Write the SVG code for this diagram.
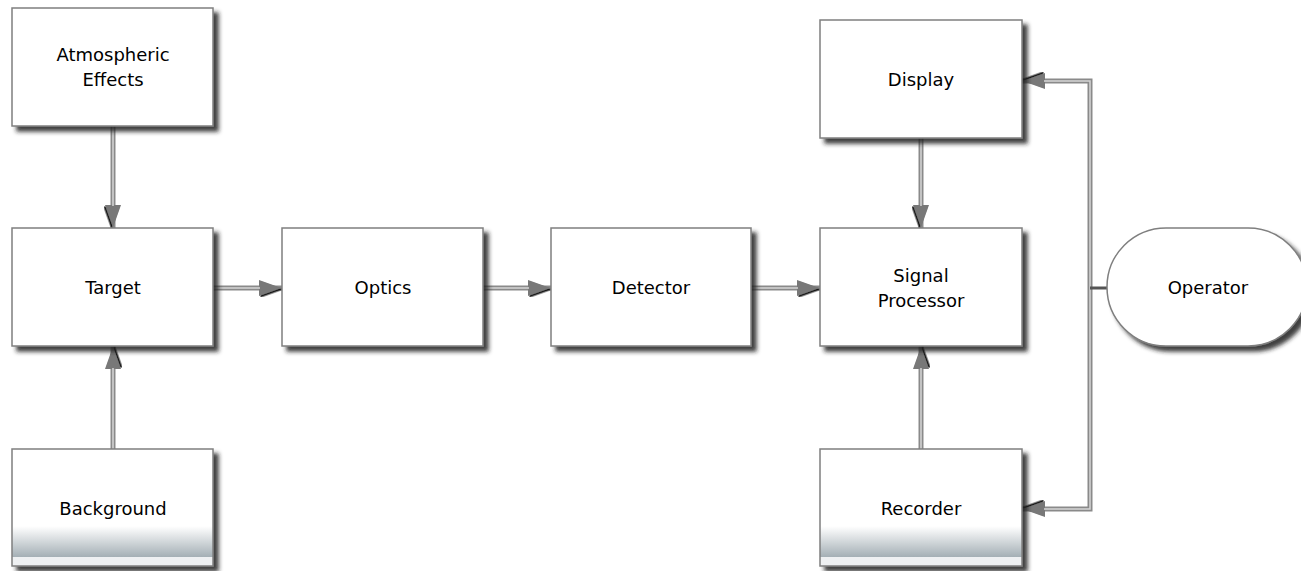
<svg xmlns="http://www.w3.org/2000/svg" width="1301" height="571" viewBox="0 0 1301 571">
<style>
.box{fill:#fff;stroke:#7f7f7f;stroke-width:1.5;filter:url(#sh)}
.gbox{fill:url(#grad);stroke:#7f7f7f;stroke-width:1.5;filter:url(#sh)}
.lbl{font-family:"DejaVu Sans","Verdana",sans-serif;font-size:18px;fill:#000;text-anchor:middle}
.wire{fill:none;stroke:#8a8a8a;stroke-width:5}
.core{fill:none;stroke:#d6d6d6;stroke-width:1.5}
.arr{marker-end:url(#ah)}
</style>
<defs>
<filter id="sh" x="-10%" y="-10%" width="125%" height="130%">
<feDropShadow dx="5" dy="5" stdDeviation="2" flood-color="#222" flood-opacity="0.85"/>
</filter>
<filter id="ash" x="-50%" y="-50%" width="200%" height="200%">
<feDropShadow dx="1.5" dy="1.5" stdDeviation="0.6" flood-color="#111" flood-opacity="0.95"/>
</filter>
<linearGradient id="grad" x1="0" y1="0" x2="0" y2="1">
<stop offset="0" stop-color="#fff"/>
<stop offset="0.66" stop-color="#fff"/>
<stop offset="0.92" stop-color="#a5b0b6"/>
<stop offset="0.92" stop-color="#eef0f2"/>
<stop offset="1" stop-color="#eef0f2"/>
</linearGradient>
<marker id="ah" viewBox="0 0 23 18" refX="23" refY="9" markerWidth="23" markerHeight="18" markerUnits="userSpaceOnUse" orient="auto">
<path d="M0,1 L22.5,9 L0,17 z" fill="#787878" filter="url(#ash)"/>
</marker>
</defs>
<rect width="1301" height="571" fill="#fff"/>
<g id="connectors">
<path class="wire arr" d="M113,126 V228"/>
<path class="core" d="M113,126 V206"/>
<path class="wire arr" d="M113,449 V346"/>
<path class="core" d="M113,449 V368"/>
<path class="wire arr" d="M213,288 H282"/>
<path class="core" d="M213,288 H260"/>
<path class="wire arr" d="M483,288 H551"/>
<path class="core" d="M483,288 H529"/>
<path class="wire arr" d="M751,288 H820"/>
<path class="core" d="M751,288 H798"/>
<path class="wire arr" d="M921,138 V228"/>
<path class="core" d="M921,138 V206"/>
<path class="wire arr" d="M921,449 V346"/>
<path class="core" d="M921,449 V368"/>
<path class="wire arr" d="M1090,288 V81 H1022"/>
<path class="core" d="M1090,288 V81 H1044"/>
<path class="wire arr" d="M1090,288 V509 H1022"/>
<path class="core" d="M1090,288 V509 H1044"/>
<path d="M1090,288 H1107" stroke="#555" stroke-width="3" fill="none"/>
</g>
<g id="atmospheric"><rect class="box" x="12" y="8" width="201" height="118"/><text class="lbl" x="113" y="61">Atmospheric</text><text class="lbl" x="113" y="86">Effects</text></g>
<g id="target"><rect class="box" x="12" y="228" width="201" height="118"/><text class="lbl" x="113" y="294">Target</text></g>
<g id="background"><rect class="gbox" x="12" y="449" width="201" height="117"/><text class="lbl" x="113" y="515">Background</text></g>
<g id="optics"><rect class="box" x="282" y="228" width="201" height="118"/><text class="lbl" x="383" y="294">Optics</text></g>
<g id="detector"><rect class="box" x="551" y="228" width="200" height="118"/><text class="lbl" x="651" y="294">Detector</text></g>
<g id="display"><rect class="box" x="820" y="20" width="202" height="118"/><text class="lbl" x="921" y="86">Display</text></g>
<g id="signal"><rect class="box" x="820" y="228" width="202" height="118"/><text class="lbl" x="921" y="282">Signal</text><text class="lbl" x="921" y="307">Processor</text></g>
<g id="recorder"><rect class="gbox" x="820" y="449" width="202" height="117"/><text class="lbl" x="921" y="515">Recorder</text></g>
<g id="operator"><rect class="box" x="1107" y="228" width="200" height="118" rx="59" ry="59"/><text class="lbl" x="1208" y="294">Operator</text></g>
</svg>
